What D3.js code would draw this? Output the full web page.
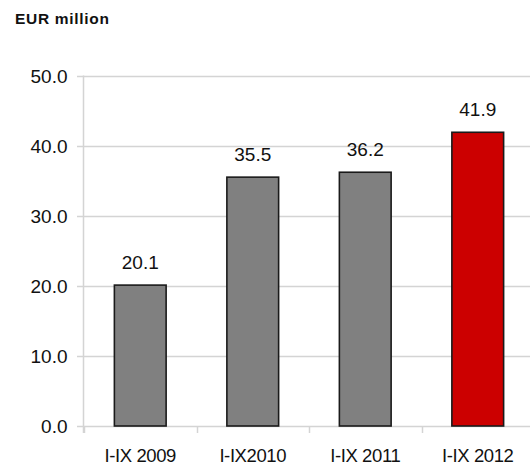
<!DOCTYPE html>
<html>
<head>
<meta charset="utf-8">
<script src="https://cdn.jsdelivr.net/npm/d3@7"></script>
<style>
  html, body { margin: 0; padding: 0; background: #fff; }
  svg { display: block; font-family: "Liberation Sans", Arial, sans-serif; }
</style>
</head>
<body>
<svg id="chart" width="530" height="466"></svg>
<script>
// Nine-month (I-IX) results, EUR million
const categories = ["I-IX 2009", "I-IX2010", "I-IX 2011", "I-IX 2012"];
const values = [20.1, 35.5, 36.2, 41.9];
const barColors = ["#808080", "#808080", "#808080", "#CC0000"];
const yTicks = [0, 10, 20, 30, 40, 50];
const title = "EUR million";

const svg = d3.select("#chart");

const plot = { left: 84, right: 534, top: 75.5, bottom: 426 };

const x = d3.scaleBand()
  .domain(categories)
  .range([plot.left, plot.right])
  .paddingInner(0.54)
  .paddingOuter(0.27);

const y = d3.scaleLinear()
  .domain([0, 50])
  .range([plot.bottom, plot.top]);

// Title
svg.append("text")
  .attr("x", 15)
  .attr("y", 23.5)
  .attr("font-size", 15.5)
  .attr("font-weight", "bold")
  .attr("letter-spacing", 0.7)
  .attr("fill", "#111")
  .text(title);

// Horizontal gridlines
svg.append("g")
  .selectAll("line")
  .data(yTicks)
  .join("line")
  .attr("x1", plot.left - 7)
  .attr("x2", 530)
  .attr("y1", d => Math.round(y(d)) + 0.5)
  .attr("y2", d => Math.round(y(d)) + 0.5)
  .attr("stroke", "#d4d4d4")
  .attr("stroke-width", 1.5);

// Y axis labels
const yAxis = d3.axisLeft(y)
  .tickValues(yTicks)
  .tickFormat(d3.format(".1f"))
  .tickSize(0)
  .tickPadding(16);

const yg = svg.append("g")
  .attr("transform", `translate(${plot.left - 0.5},0)`)
  .call(yAxis);
yg.select(".domain").remove();
yg.selectAll("text")
  .attr("font-size", 19)
  .attr("font-family", "'Liberation Sans', Arial, sans-serif")
  .attr("fill", "#111")
  .attr("dy", "0.36em");

// Y axis line
svg.append("line")
  .attr("x1", plot.left - 0.5).attr("x2", plot.left - 0.5)
  .attr("y1", plot.top).attr("y2", plot.bottom + 7)
  .attr("stroke", "#d4d4d4").attr("stroke-width", 1.5);

// X axis tick marks at category boundaries
svg.append("g")
  .selectAll("line")
  .data(categories)
  .join("line")
  .attr("x1", d => Math.round(x(d) + x.bandwidth() / 2 - x.step() / 2) + 0.5)
  .attr("x2", d => Math.round(x(d) + x.bandwidth() / 2 - x.step() / 2) + 0.5)
  .attr("y1", plot.bottom)
  .attr("y2", plot.bottom + 7)
  .attr("stroke", "#d4d4d4")
  .attr("stroke-width", 1.5);

// Bars
svg.append("g")
  .selectAll("rect")
  .data(values)
  .join("rect")
  .attr("x", (d, i) => x(categories[i]))
  .attr("y", d => y(d))
  .attr("width", x.bandwidth())
  .attr("height", d => y(0) - y(d))
  .attr("fill", (d, i) => barColors[i])
  .attr("stroke", "#1a1a1a")
  .attr("stroke-width", 1.6);

// Value labels
svg.append("g")
  .selectAll("text")
  .data(values)
  .join("text")
  .attr("x", (d, i) => x(categories[i]) + x.bandwidth() / 2)
  .attr("y", d => y(d) - 16)
  .attr("text-anchor", "middle")
  .attr("font-size", 19)
  .attr("fill", "#111")
  .text(d => d3.format(".1f")(d));

// Category labels
svg.append("g")
  .selectAll("text")
  .data(categories)
  .join("text")
  .attr("x", d => x(d) + x.bandwidth() / 2)
  .attr("y", 462)
  .attr("text-anchor", "middle")
  .attr("font-size", 18.5)
  .attr("letter-spacing", -0.4)
  .attr("fill", "#111")
  .text(d => d);
</script>
</body>
</html>
